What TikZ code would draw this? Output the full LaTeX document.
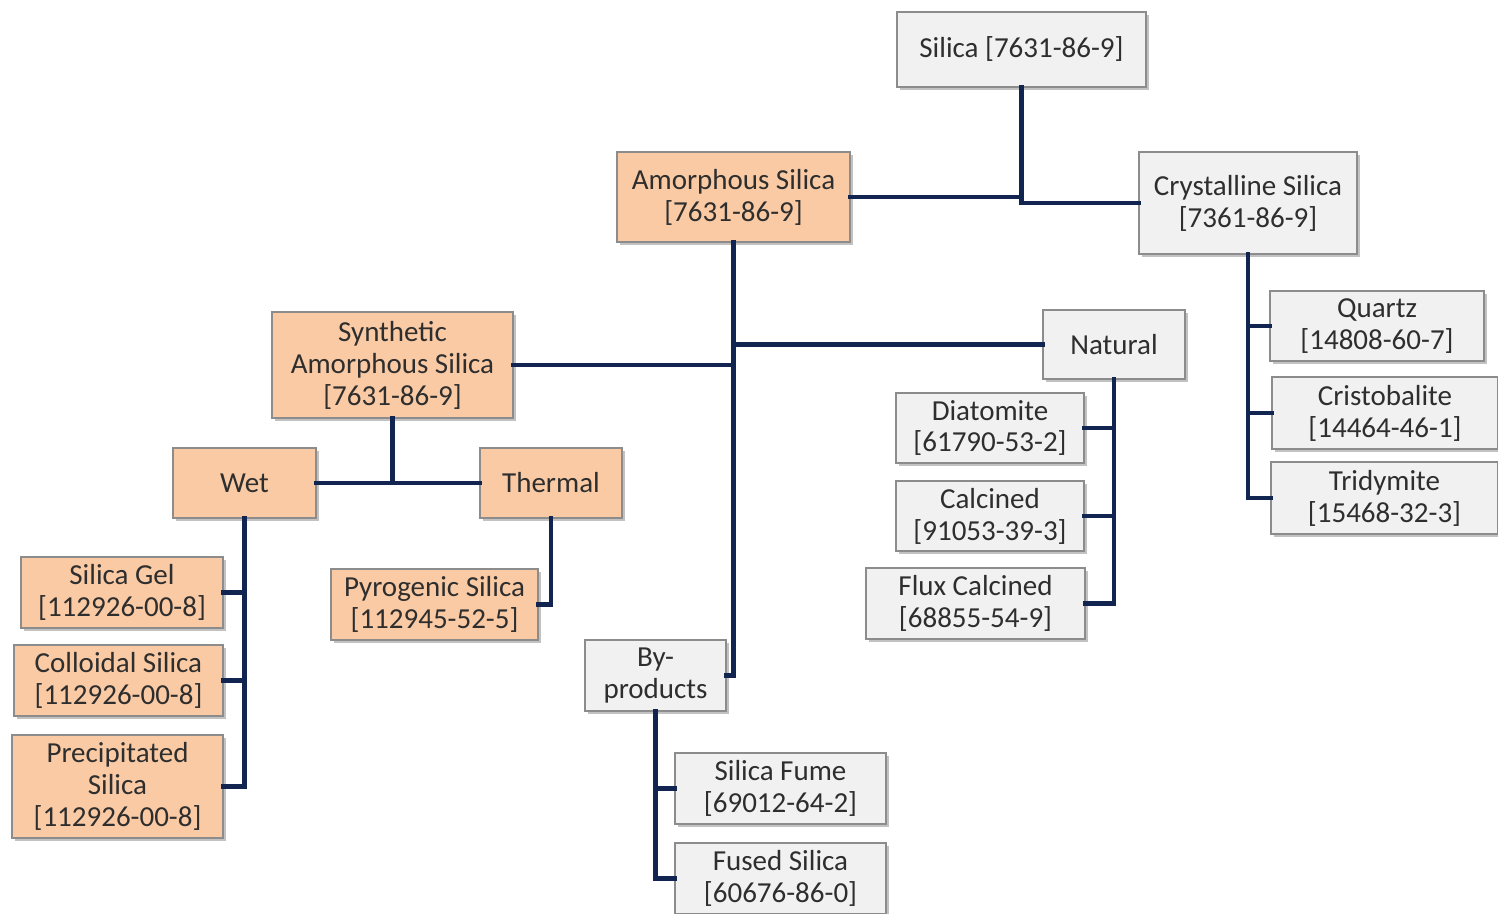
\documentclass[tikz,border=0pt]{standalone}
\usepackage{fontspec}
\setmainfont{Carlito}
\usepackage{tikz}
\usetikzlibrary{shadows}

\definecolor{peach}{RGB}{250,202,164}
\definecolor{pale}{RGB}{241,241,241}
\definecolor{rim}{RGB}{140,140,140}
\definecolor{navy}{RGB}{18,36,80}

\begin{document}
\begin{tikzpicture}[line cap=rect,line join=miter,
  box/.style={draw=rim,line width=0.6pt,align=center,inner sep=0pt,
    text=black!82,font=\fontsize{16.5}{18.2}\selectfont,
    drop shadow={shadow xshift=1.8pt,shadow yshift=-1.8pt,opacity=0.4,fill=black!60}},
  amo/.style={box,fill=peach},
  gry/.style={box,fill=pale},
  link/.style={draw=navy,line width=2.5pt}]

\useasboundingbox (0,0) rectangle (29.96,-18.28);
\clip (0,0) rectangle (29.96,-18.28);

\node[gry,minimum width=4.98cm,minimum height=1.50cm] (silica) at (20.43,-0.99) {Silica [7631-86-9]};
\node[amo,minimum width=4.66cm,minimum height=1.80cm] (amor) at (14.67,-3.94) {Amorphous Silica\\{[}7631-86-9]};
\node[gry,minimum width=4.36cm,minimum height=2.04cm] (cryst) at (24.96,-4.06) {Crystalline Silica\\{[}7361-86-9]};

\node[amo,minimum width=4.82cm,minimum height=2.12cm] (synth) at (7.85,-7.30) {Synthetic\\Amorphous Silica\\{[}7631-86-9]};
\node[gry,minimum width=2.84cm,minimum height=1.38cm] (natural) at (22.28,-6.89) {Natural};
\node[amo,minimum width=2.86cm,minimum height=1.40cm] (wet) at (4.89,-9.66) {Wet};
\node[amo,minimum width=2.84cm,minimum height=1.40cm] (thermal) at (11.02,-9.66) {Thermal};

\node[amo,minimum width=4.04cm,minimum height=1.42cm] (gel) at (2.44,-11.85) {Silica Gel\\{[}112926-00-8]};
\node[amo,minimum width=4.18cm,minimum height=1.42cm] (colloid) at (2.37,-13.61) {Colloidal Silica\\{[}112926-00-8]};
\node[amo,minimum width=4.22cm,minimum height=2.06cm] (precip) at (2.35,-15.73) {Precipitated\\Silica\\{[}112926-00-8]};
\node[amo,minimum width=4.14cm,minimum height=1.42cm] (pyro) at (8.69,-12.09) {Pyrogenic Silica\\{[}112945-52-5]};

\node[gry,minimum width=2.82cm,minimum height=1.42cm] (byprod) at (13.11,-13.51) {By-\\products};
\node[gry,minimum width=4.22cm,minimum height=1.42cm] (fume) at (15.61,-15.77) {Silica Fume\\{[}69012-64-2]};
\node[gry,minimum width=4.22cm,minimum height=1.42cm] (fused) at (15.61,-17.57) {Fused Silica\\{[}60676-86-0]};

\node[gry,minimum width=3.76cm,minimum height=1.40cm] (diatom) at (19.80,-8.56) {Diatomite\\{[}61790-53-2]};
\node[gry,minimum width=3.76cm,minimum height=1.40cm] (calcined) at (19.80,-10.32) {Calcined\\{[}91053-39-3]};
\node[gry,minimum width=4.38cm,minimum height=1.42cm] (flux) at (19.51,-12.07) {Flux Calcined\\{[}68855-54-9]};

\node[gry,minimum width=4.28cm,minimum height=1.40cm] (quartz) at (27.54,-6.52) {Quartz\\{[}14808-60-7]};
\node[gry,minimum width=4.52cm,minimum height=1.44cm] (cristo) at (27.70,-8.26) {Cristobalite\\{[}14464-46-1]};
\node[gry,minimum width=4.54cm,minimum height=1.44cm] (tridy) at (27.69,-9.96) {Tridymite\\{[}15468-32-3]};

\draw[link] (silica.south) |- (cryst.west);
\draw[link] (amor.east) -- (amor.east -| silica.south);

\draw[link] (amor.south) |- (byprod.east);
\draw[link] (synth.east) -- (synth.east -| amor.south);
\draw[link] (natural.west) -- (natural.west -| amor.south);

\draw[link] (synth.south) -- (synth.south |- wet.east);
\draw[link] (wet.east) -- (thermal.west);

\draw[link] (wet.south) |- (precip.east);
\draw[link] (gel.east) -- (gel.east -| wet.south);
\draw[link] (colloid.east) -- (colloid.east -| wet.south);
\draw[link] (thermal.south) |- (pyro.east);

\draw[link] (byprod.south) |- (fused.west);
\draw[link] (fume.west) -- (fume.west -| byprod.south);

\draw[link] (natural.south) |- (flux.east);
\draw[link] (diatom.east) -- (diatom.east -| natural.south);
\draw[link] (calcined.east) -- (calcined.east -| natural.south);

\draw[link] (cryst.south) |- (tridy.west);
\draw[link] (quartz.west) -- (quartz.west -| cryst.south);
\draw[link] (cristo.west) -- (cristo.west -| cryst.south);

\end{tikzpicture}
\end{document}
